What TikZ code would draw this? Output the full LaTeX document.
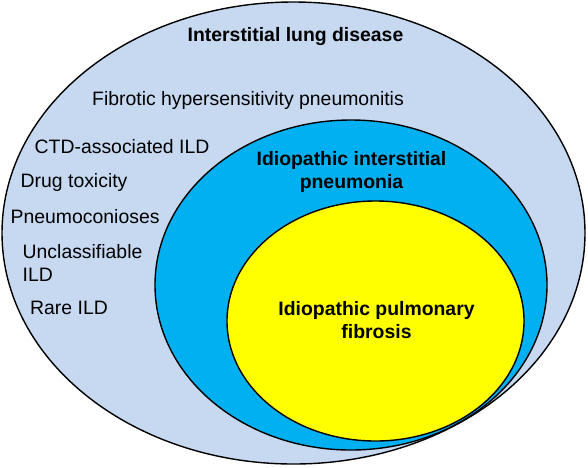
\documentclass[tikz,border=0pt]{standalone}
\usepackage{fontspec}
\setmainfont{Liberation Sans}
\usetikzlibrary{shapes.geometric,positioning}

\definecolor{ildpale}{HTML}{C6D9F1}
\definecolor{iipblue}{HTML}{00B0F0}
\definecolor{ipfyellow}{HTML}{FFFF00}

\tikzset{
    ring/.style={draw, ellipse, line width=1.4pt, inner sep=0pt},
    lbl/.style={font=\fontsize{19.4}{23}\selectfont, inner sep=0pt},
    head/.style={lbl, font=\fontsize{19.4}{23}\selectfont\bfseries, align=center}
}

\begin{document}
\begin{tikzpicture}[x=1pt, y=-1pt]
    \useasboundingbox (0,0) rectangle (588,467);

    % Nested sets
    \node[ring, fill=ildpale, minimum width=583pt, minimum height=462pt] (ild) at (293.5,233) {};
    \node[ring, fill=iipblue, minimum width=392pt, minimum height=330pt] (iip) at (351,285) {};
    \node[ring, fill=ipfyellow, minimum width=297pt, minimum height=240pt] (ipf) at (375.5,321) {};

    % Headings
    \node[head] (ildname) at (295.5,37) {Interstitial lung disease};
    \node[head] (iipname) at (351.5,172) {Idiopathic interstitial\\pneumonia};
    \node[head] (ipfname) at (376.5,320) {Idiopathic pulmonary\\fibrosis};

    % Other ILD
    \node[lbl, anchor=west] (fhp) at (92,100) {Fibrotic hypersensitivity pneumonitis};
    \node[lbl, anchor=west] (ctd) at (34.5,147) {CTD-associated ILD};
    \node[lbl, anchor=west] (drug) at (20.5,182) {Drug toxicity};
    \node[lbl, anchor=west] (pneumo) at (10.5,217) {Pneumoconioses};
    \node[lbl, anchor=west, align=left] (unclass) at (22.5,262.5) {Unclassifiable\\ILD};
    \node[lbl, anchor=west] (rare) at (30,308) {Rare ILD};
\end{tikzpicture}
\end{document}
